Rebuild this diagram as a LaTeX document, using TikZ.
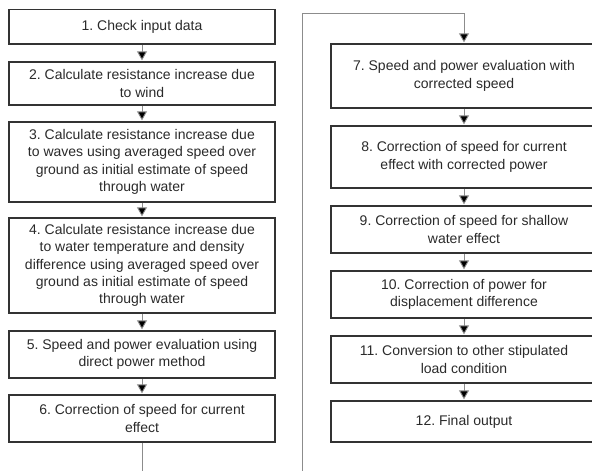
\documentclass[tikz,border=0pt]{standalone}
\usepackage{fontspec}
\setmainfont{Liberation Sans}
\usetikzlibrary{arrows.meta}
\definecolor{boxline}{HTML}{333333}
\definecolor{txt}{HTML}{2A2A2A}
\definecolor{conn}{HTML}{8C8C8C}
\tikzset{
  stepbox/.style={draw=boxline, line width=1.7pt, minimum width=266pt, inner sep=0pt,
    align=center, text=txt, font=\fontsize{14}{17.3}\selectfont\frenchspacing},
  flow/.style={draw=conn, line width=0.9pt, -{Triangle[width=10pt,length=9pt,fill=black]}, shorten >=0.8pt},
  loopline/.style={draw=conn, line width=0.9pt}
}
\begin{document}
\frenchspacing
\begin{tikzpicture}[x=1pt,y=-1pt]
\useasboundingbox (0,0) rectangle (592,471);
% left column
\node[stepbox, minimum height=34.5pt] (b1) at (142,26.75) {1. Check input data};
\node[stepbox, minimum height=43pt] (b2) at (142,83.5) {2. Calculate resistance increase due\\to wind};
\node[stepbox, minimum height=80pt] (b3) at (142,162) {3. Calculate resistance increase due\\to waves using averaged speed over\\ground as initial estimate of speed\\through water};
\node[stepbox, minimum height=95pt] (b4) at (142,265.5) {4. Calculate resistance increase due\\to water temperature and density\\difference using averaged speed over\\ground as initial estimate of speed\\through water};
\node[stepbox, minimum height=47pt] (b5) at (142,354.5) {5. Speed and power evaluation using\\direct power method};
\node[stepbox, minimum height=47pt] (b6) at (142,418.5) {6. Correction of speed for current\\effect};
% right column
\node[stepbox, minimum height=64pt] (b7) at (464,76) {7. Speed and power evaluation with\\corrected speed};
\node[stepbox, minimum height=62pt] (b8) at (464,157) {8. Correction of speed for current\\effect with corrected power};
\node[stepbox, minimum height=47pt] (b9) at (464,229.5) {9. Correction of speed for shallow\\water effect};
\node[stepbox, minimum height=47pt] (b10) at (464,294.5) {10. Correction of power for\\displacement difference};
\node[stepbox, minimum height=47pt] (b11) at (464,359.5) {11. Conversion to other stipulated\\load condition};
\node[stepbox, minimum height=41pt] (b12) at (464,421.5) {12. Final output};
% connectors
\draw[flow] (b1) -- (b2);
\draw[flow] (b2) -- (b3);
\draw[flow] (b3) -- (b4);
\draw[flow] (b4) -- (b5);
\draw[flow] (b5) -- (b6);
\draw[flow] (b7) -- (b8);
\draw[flow] (b8) -- (b9);
\draw[flow] (b9) -- (b10);
\draw[flow] (b10) -- (b11);
\draw[flow] (b11) -- (b12);
\coordinate (c1) at (142,471);
\coordinate (c2) at (302,471);
\coordinate (c3) at (302,13.5);
\draw[loopline] (b6.south) -- (c1);
\draw[flow] (c2) -- (c3) -| (b7.north);
\end{tikzpicture}
\end{document}
